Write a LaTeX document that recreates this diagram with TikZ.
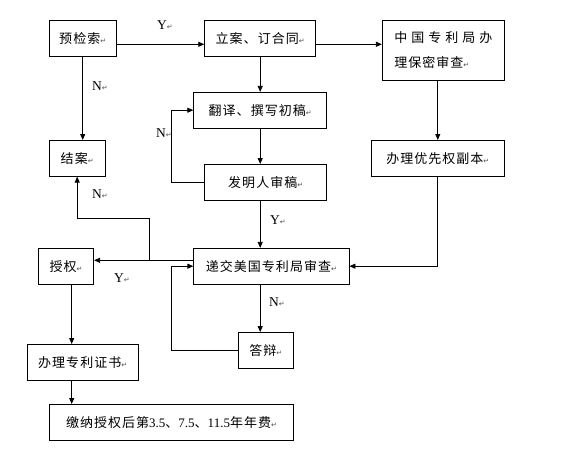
\documentclass[tikz,border=0pt]{standalone}
\usepackage{fontspec}
\setmainfont{Liberation Serif}
\newfontfamily\cjk[LetterSpace=8]{Noto Sans CJK SC}
\newfontfamily\retfont{DejaVu Sans}
\usepackage{xcolor}
\usepackage{tikz}
\usetikzlibrary{arrows.meta,positioning}
\newcommand{\ret}{{\retfont\fontsize{7}{7}\selectfont\textcolor{black!70}{↵}}}

\begin{document}
\begin{tikzpicture}[
    x=1pt, y=-1pt,
    proc/.style={rectangle, draw, line width=0.8pt, minimum height=35.8pt, inner sep=2pt, font=\cjk\fontsize{13}{19}\selectfont},
    link/.style={line width=0.8pt, -{Triangle[length=6pt,width=5pt]}},
    yn/.style={font=\fontsize{13.5}{13.5}\selectfont, inner sep=0pt}
]
\useasboundingbox (0,0) rectangle (565,452);

% Top row
\node[proc, minimum width=66.7pt] (yjs) at (82.7,38.5) {预检索\ret};
\node[proc, minimum width=111pt] (la) at (260.2,38.5) {立案、订合同\ret};
\node[proc, minimum width=122pt, minimum height=59.6pt, align=left, font=\cjk\fontsize{13}{25}\selectfont] (zg) at (443.3,50.5) {\makebox[98pt][l]{中\hfill 国\hfill 专\hfill 利\hfill 局\hfill 办}\\理保密审查\ret};

% Drafting steps
\node[proc, minimum width=133pt] (fy) at (260.2,110.2) {翻译、撰写初稿\ret};
\node[proc, minimum width=55.7pt] (ja) at (77.2,158.3) {结案\ret};
\node[proc, minimum width=133pt] (yx) at (437.8,158.3) {办理优先权副本\ret};
\node[proc, minimum width=122pt] (fm) at (265.7,182.3) {发明人审稿\ret};

% Examination
\node[proc, minimum width=55.4pt] (sq) at (66,266.2) {授权\ret};
\node[proc, minimum width=155.3pt] (dj) at (271.4,266.2) {递交美国专利局审查\ret};
\node[proc, minimum width=55.7pt] (db) at (265.9,350.3) {答辩\ret};

% After grant
\node[proc, minimum width=111.3pt] (zs) at (82.7,362.3) {办理专利证书\ret};
\node[proc, minimum width=244.4pt] (jn) at (171.5,422.3) {缴纳授权后第{\rmfamily 3.5}、{\rmfamily 7.5}、{\rmfamily 11.5}年年费\ret};

% Top row arrows
\coordinate (r1) at ([yshift=-5.8pt]yjs.east);
\draw[link] (r1) -- (r1 -| la.west);
\coordinate (r2) at ([yshift=-5.8pt]la.east);
\draw[link] (r2) -- (r2 -| zg.west);
\draw[link] (yjs.south) -- (yjs.south |- ja.north);

% Middle column
\draw[link] (la.south) -- (la.south |- fy.north);
\draw[link] (fy.south) -- (fy.south |- fm.north);
\draw[link] (fm.south -| fy.south) -- (dj.north -| fy.south);
\draw[link] (dj.south -| fy.south) -- (db.north -| fy.south);

% Loops back
\draw[link] (fm.west) -- ++(-33.4,0) |- (fy.west);
\draw[link] (db.west) -- ++(-66.7,0) |- (dj.west);

% Right column
\draw[link] (zg.south -| yx.north) -- (yx.north);
\draw[link] (yx.south) |- (dj.east);

% Grant or close
\coordinate (r3) at ([yshift=5.9pt]dj.west);
\draw[link] (r3) -- (r3 -| sq.east);
\coordinate (br) at (149.7,260.3);
\draw[link] (br) -- ++(0,-42) -| (ja.south);

% Left column
\coordinate (c1) at ([xshift=5.7pt]sq.south);
\draw[link] (c1) -- (c1 |- zs.north);
\draw[link] (c1 |- zs.south) -- (c1 |- jn.north);

% Y / N labels
\node[yn] (y1) at (165,25) {Y\ret};
\node[yn] (n1) at (100,86) {N\ret};
\node[yn] (n2) at (164,133) {N\ret};
\node[yn] (n3) at (100,194) {N\ret};
\node[yn] (y2) at (278,220) {Y\ret};
\node[yn] (y3) at (122,278) {Y\ret};
\node[yn] (n4) at (277,301.7) {N\ret};

\end{tikzpicture}
\end{document}
